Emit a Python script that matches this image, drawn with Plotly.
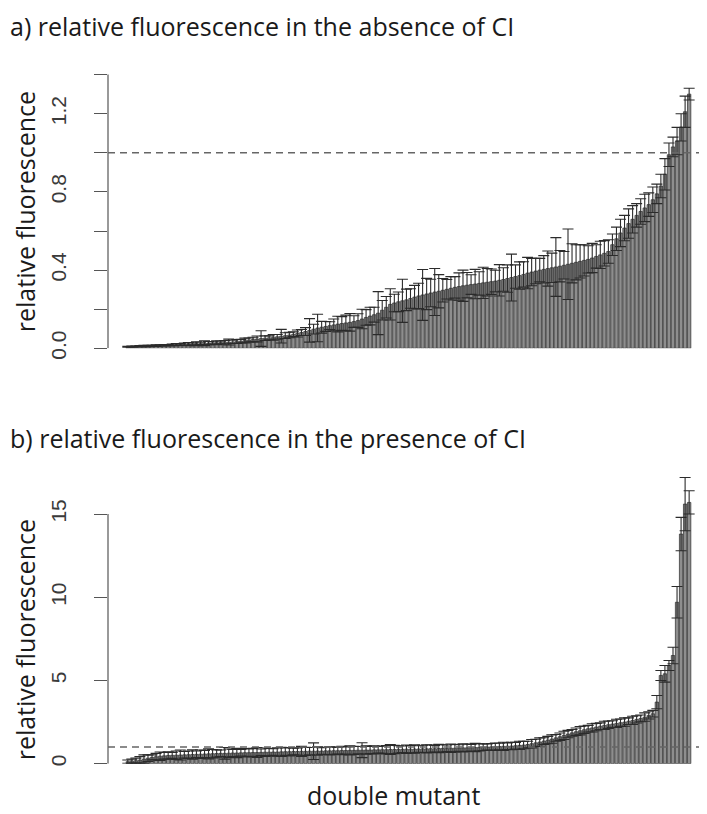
import plotly.graph_objects as go

# ---------------- data (sorted ascending) ----------------
abs_ci_values = [
    0.008, 0.009, 0.010, 0.011, 0.012, 0.012, 0.013, 0.014, 0.015, 0.016,
    0.017, 0.018, 0.019, 0.020, 0.021, 0.022, 0.023, 0.024, 0.025, 0.026,
    0.027, 0.028, 0.029, 0.030, 0.031, 0.032, 0.033, 0.035, 0.037, 0.040,
    0.043, 0.045, 0.048, 0.050, 0.052, 0.054, 0.056, 0.059, 0.062, 0.065,
    0.068, 0.072, 0.076, 0.081, 0.086, 0.092, 0.098, 0.104, 0.108, 0.112,
    0.116, 0.120, 0.124, 0.127, 0.130, 0.133, 0.137, 0.142, 0.150, 0.158,
    0.165, 0.172, 0.180, 0.195, 0.210, 0.225, 0.232, 0.238, 0.243, 0.248,
    0.255, 0.262, 0.268, 0.273, 0.278, 0.283, 0.288, 0.292, 0.297, 0.302,
    0.307, 0.312, 0.316, 0.320, 0.323, 0.326, 0.329, 0.332, 0.335, 0.338,
    0.341, 0.344, 0.348, 0.352, 0.357, 0.362, 0.367, 0.372, 0.378, 0.385,
    0.390, 0.395, 0.400, 0.404, 0.408, 0.412, 0.416, 0.420, 0.425, 0.430,
    0.435, 0.440, 0.445, 0.450, 0.455, 0.462, 0.470, 0.478, 0.486, 0.495,
    0.530, 0.560, 0.590, 0.615, 0.638, 0.660, 0.680, 0.700, 0.718, 0.735,
    0.760, 0.790, 0.830, 0.890, 0.990, 1.030, 1.060, 1.130, 1.210, 1.300,
]
abs_ci_errors = [
    0.002, 0.003, 0.002, 0.003, 0.004, 0.003, 0.002, 0.004, 0.003, 0.004,
    0.003, 0.004, 0.005, 0.004, 0.006, 0.008, 0.005, 0.010, 0.006, 0.012,
    0.008, 0.006, 0.010, 0.007, 0.009, 0.015, 0.008, 0.010, 0.009, 0.012,
    0.010, 0.012, 0.015, 0.040, 0.012, 0.010, 0.015, 0.012, 0.035, 0.015,
    0.014, 0.012, 0.018, 0.015, 0.020, 0.060, 0.025, 0.070, 0.030, 0.025,
    0.020, 0.030, 0.040, 0.035, 0.040, 0.045, 0.030, 0.035, 0.050, 0.040,
    0.045, 0.038, 0.110, 0.050, 0.055, 0.080, 0.045, 0.050, 0.110, 0.055,
    0.050, 0.060, 0.065, 0.130, 0.080, 0.070, 0.120, 0.085, 0.060, 0.050,
    0.060, 0.055, 0.070, 0.080, 0.065, 0.050, 0.075, 0.060, 0.080, 0.070,
    0.065, 0.055, 0.080, 0.060, 0.070, 0.120, 0.060, 0.070, 0.065, 0.080,
    0.070, 0.065, 0.060, 0.070, 0.090, 0.075, 0.150, 0.080, 0.070, 0.180,
    0.100, 0.090, 0.085, 0.080, 0.070, 0.075, 0.060, 0.070, 0.065, 0.060,
    0.055, 0.060, 0.070, 0.065, 0.075, 0.070, 0.060, 0.065, 0.070, 0.060,
    0.065, 0.050, 0.060, 0.080, 0.060, 0.050, 0.070, 0.070, 0.080, 0.030,
]

pres_ci_values = [
    0.12, 0.15, 0.18, 0.22, 0.28, 0.33, 0.38, 0.42, 0.45, 0.47,
    0.49, 0.50, 0.51, 0.52, 0.53, 0.54, 0.55, 0.56, 0.57, 0.58,
    0.59, 0.60, 0.61, 0.62, 0.62, 0.63, 0.64, 0.64, 0.65, 0.66,
    0.66, 0.67, 0.67, 0.68, 0.69, 0.69, 0.70, 0.70, 0.71, 0.72,
    0.72, 0.73, 0.73, 0.74, 0.74, 0.75, 0.75, 0.76, 0.76, 0.77,
    0.77, 0.78, 0.78, 0.79, 0.79, 0.80, 0.80, 0.81, 0.81, 0.82,
    0.82, 0.83, 0.83, 0.84, 0.84, 0.85, 0.85, 0.86, 0.86, 0.87,
    0.87, 0.88, 0.88, 0.89, 0.89, 0.90, 0.90, 0.91, 0.92, 0.92,
    0.93, 0.93, 0.94, 0.95, 0.95, 0.96, 0.97, 0.98, 0.99, 1.00,
    1.01, 1.02, 1.03, 1.04, 1.05, 1.06, 1.08, 1.10, 1.12, 1.15,
    1.20, 1.25, 1.30, 1.36, 1.42, 1.48, 1.55, 1.62, 1.70, 1.78,
    1.85, 1.92, 1.98, 2.04, 2.10, 2.15, 2.20, 2.25, 2.30, 2.34,
    2.38, 2.42, 2.46, 2.50, 2.55, 2.60, 2.66, 2.72, 2.80, 2.90,
    3.00, 3.70, 5.30, 5.40, 5.90, 6.50, 9.70, 13.80, 15.60, 15.70,
]
pres_ci_errors = [
    0.10, 0.12, 0.15, 0.20, 0.25, 0.20, 0.15, 0.20, 0.25, 0.20,
    0.22, 0.18, 0.25, 0.30, 0.20, 0.22, 0.28, 0.20, 0.25, 0.22,
    0.30, 0.25, 0.22, 0.20, 0.35, 0.25, 0.22, 0.28, 0.20, 0.25,
    0.22, 0.25, 0.30, 0.20, 0.25, 0.22, 0.20, 0.25, 0.28, 0.22,
    0.25, 0.20, 0.22, 0.30, 0.25, 0.22, 0.50, 0.25, 0.20, 0.22,
    0.25, 0.22, 0.20, 0.25, 0.22, 0.28, 0.25, 0.22, 0.45, 0.25,
    0.22, 0.25, 0.20, 0.22, 0.25, 0.30, 0.25, 0.22, 0.20, 0.25,
    0.22, 0.25, 0.20, 0.22, 0.25, 0.22, 0.20, 0.25, 0.22, 0.20,
    0.25, 0.22, 0.20, 0.25, 0.22, 0.20, 0.25, 0.22, 0.20, 0.18,
    0.20, 0.22, 0.20, 0.25, 0.20, 0.22, 0.20, 0.25, 0.22, 0.20,
    0.25, 0.22, 0.25, 0.20, 0.22, 0.25, 0.20, 0.22, 0.25, 0.22,
    0.20, 0.22, 0.25, 0.22, 0.20, 0.25, 0.22, 0.20, 0.25, 0.22,
    0.20, 0.25, 0.22, 0.25, 0.20, 0.25, 0.22, 0.20, 0.25, 0.22,
    0.20, 0.40, 0.30, 0.50, 0.30, 0.50, 0.95, 1.00, 1.60, 0.70,
]

abs_ticks = [0.0, 0.2, 0.4, 0.6, 0.8, 1.0, 1.2, 1.4]
abs_tick_text = ["0.0", "", "0.4", "", "0.8", "", "1.2", ""]
pres_ticks = [0, 5, 10, 15]
pres_tick_text = ["0", "5", "10", "15"]

title_a = "a) relative fluorescence in the absence of CI"
title_b = "b) relative fluorescence in the presence of CI"
y_title = "relative fluorescence"
x_title = "double mutant"
reference_level = 1.0

# ---------------- figure ----------------
W, H = 707, 814
TEXT_FONT = "Open Sans"
TICK_FONT = "Liberation Sans"

x_idx = list(range(len(abs_ci_values)))

bar_style = dict(color="#8e8e8e", line=dict(color="#2a2a2a", width=0.7))
err_style = dict(type="data", visible=True, color="#2b2b2b", thickness=1.1, width=5.5)

fig = go.Figure()
fig.add_trace(go.Bar(x=x_idx, y=abs_ci_values, marker=bar_style,
                     error_y=dict(array=abs_ci_errors, **err_style),
                     xaxis="x", yaxis="y", showlegend=False))
fig.add_trace(go.Bar(x=x_idx, y=pres_ci_values, marker=bar_style,
                     error_y=dict(array=pres_ci_errors, **err_style),
                     xaxis="x2", yaxis="y2", showlegend=False))

def px_y(p):
    return 1 - p / H

xdom = [100 / W, 1.0]
xrange = [-4.9, 145.4]

# panel a: y=0 at 345 px, 1.4 at 67.5 px
a_bottom, a_per = 345.0, (345.0 - 67.5) / 1.4
a_top_px = 58.0
a_range = [0, (a_bottom - a_top_px) / a_per]
# panel b: y=0 at 766 px, 15 at 513 px
b_bottom, b_per = 766.0, (766.0 - 513.0) / 15
b_top_px = 468.0
b_range = [0, (b_bottom - b_top_px) / b_per]

common_x = dict(domain=xdom, range=xrange, showgrid=False, zeroline=False,
                showline=False, showticklabels=False, ticks="")
yaxis_common = dict(showgrid=False, zeroline=False, showline=False,
                    ticks="outside", ticklen=13, tickwidth=1.2, tickcolor="#555",
                    tickangle=-90, ticklabelstandoff=20,
                    tickfont=dict(family=TICK_FONT, size=21, color="#3a3a3a"))

fig.update_layout(
    width=W, height=H, margin=dict(l=0, r=0, t=0, b=0),
    paper_bgcolor="white", plot_bgcolor="white",
    bargap=0.17,
    xaxis=dict(**common_x, anchor="y"),
    xaxis2=dict(**common_x, anchor="y2"),
    yaxis=dict(**yaxis_common, domain=[px_y(a_bottom), px_y(a_top_px)], range=a_range,
               tickvals=abs_ticks, ticktext=abs_tick_text, anchor="x"),
    yaxis2=dict(**yaxis_common, domain=[px_y(b_bottom), px_y(b_top_px)], range=b_range,
                tickvals=pres_ticks, ticktext=pres_tick_text, anchor="x2"),
)

# axis lines spanning only the tick range (like R's axis())
fig.add_shape(type="line", xref="x domain", yref="y", x0=0, x1=0,
              y0=abs_ticks[0], y1=abs_ticks[-1], line=dict(color="#555", width=1.2))
fig.add_shape(type="line", xref="x2 domain", yref="y2", x0=0, x1=0,
              y0=pres_ticks[0], y1=pres_ticks[-1], line=dict(color="#555", width=1.2))

# dashed reference lines at 1
for xr, yr in (("x domain", "y"), ("x2 domain", "y2")):
    fig.add_shape(type="line", xref=xr, yref=yr, x0=0, x1=1,
                  y0=reference_level, y1=reference_level, layer="above",
                  line=dict(color="#666", width=1.4, dash="7px,5px"))

title_font = dict(family=TEXT_FONT, size=25, color="#1a1a1a")
fig.add_annotation(text=title_a, xref="paper", yref="paper", x=0.0, y=px_y(18),
                   xanchor="left", yanchor="middle", showarrow=False, font=title_font)
fig.add_annotation(text=title_b, xref="paper", yref="paper", x=0.0, y=px_y(436),
                   xanchor="left", yanchor="middle", showarrow=False, font=title_font)
fig.add_annotation(text=y_title, xref="paper", yref="paper", x=17 / W, y=px_y(207),
                   xanchor="center", yanchor="middle", textangle=-90, showarrow=False,
                   font=title_font)
fig.add_annotation(text=y_title, xref="paper", yref="paper", x=17 / W, y=px_y(641),
                   xanchor="center", yanchor="middle", textangle=-90, showarrow=False,
                   font=title_font)
fig.add_annotation(text=x_title, xref="paper", yref="paper", x=385 / W, y=px_y(798),
                   xanchor="center", yanchor="middle", showarrow=False, font=title_font)

fig.write_html("out.html")
